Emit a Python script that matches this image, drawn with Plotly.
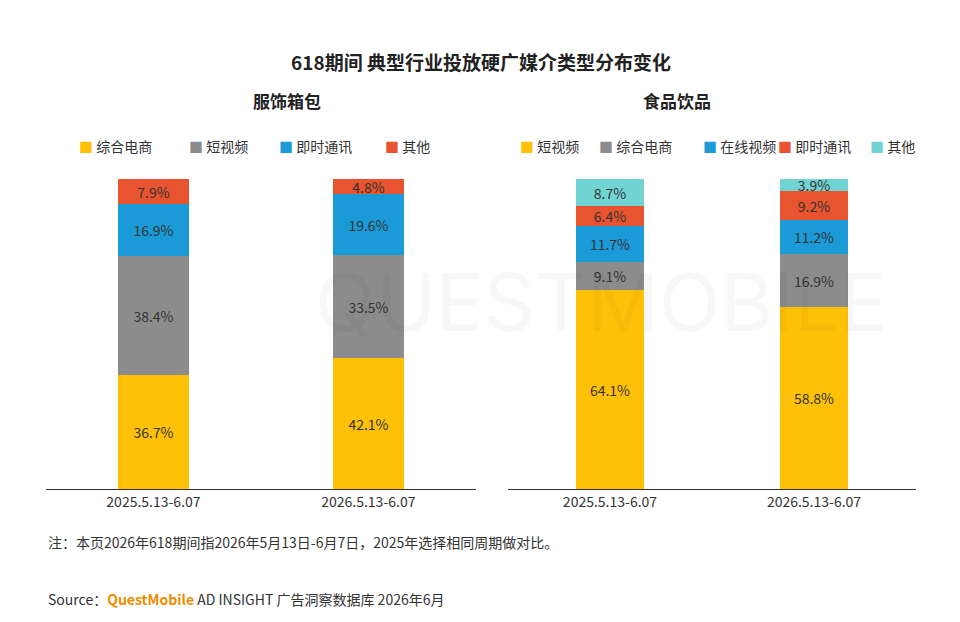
import plotly.graph_objects as go

cats = ["2025.5.13-6.07", "2026.5.13-6.07"]
left_series = ["综合电商", "短视频", "即时通讯", "其他"]
left_vals = [[36.7, 42.1], [38.4, 33.5], [16.9, 19.6], [7.9, 4.8]]
right_series = ["短视频", "综合电商", "在线视频", "即时通讯", "其他"]
right_vals = [[64.1, 58.8], [9.1, 16.9], [11.7, 11.2], [6.4, 9.2], [8.7, 3.9]]

left_cols = ["#FFC107", "#8C8C8C", "#1A9AD6", "#E8542F"]
right_cols = ["#FFC107", "#8C8C8C", "#1A9AD6", "#E8542F", "#72D3D3"]
left_leg_x = [76, 186, 276, 382]
right_leg_x = [517, 596, 700, 775, 867]

fig = go.Figure()
for name, vals, c in zip(left_series, left_vals, left_cols):
    fig.add_bar(x=cats, y=vals, name=name, marker=dict(color=c, line=dict(width=0)),
                text=[f"{v}%" for v in vals], textposition="inside", insidetextanchor="middle",
                textfont=dict(size=14, color="#333"), width=0.33, xaxis="x", yaxis="y",
                showlegend=False, hoverinfo="skip")
for name, vals, c in zip(right_series, right_vals, right_cols):
    fig.add_bar(x=cats, y=vals, name=name, marker=dict(color=c, line=dict(width=0)),
                text=[f"{v}%" for v in vals], textposition="inside", insidetextanchor="middle",
                textfont=dict(size=14, color="#333"), width=0.33, xaxis="x2", yaxis="y2",
                showlegend=False, hoverinfo="skip")

ax = dict(showgrid=False, showline=True, linecolor="#333", linewidth=1, ticks="",
          tickfont=dict(size=14, color="#333"), fixedrange=True)
ay = dict(visible=False, range=[0, 100], fixedrange=True)

OX, OY = 7, 7
W, H = 960, 622
L, R, T, B = 45 - OX, 45 + OX, 178 - OY, 134 + OY
pw, ph = W - L - R, H - T - B
def px(x): return (x - OX - L) / pw
def py(y): return (H - B - (y - OY)) / ph

anns = [
    dict(text="QUESTMOBILE", x=px(600), y=py(300), showarrow=False,
         font=dict(size=80, color="rgba(0,0,0,0.03)", family="Inter")),
    dict(text="<b>618期间 典型行业投放硬广媒介类型分布变化</b>", x=px(480), y=py(60),
         showarrow=False, font=dict(size=19, color="#222")),
    dict(text="<b>服饰箱包</b>", x=px(250), y=py(100), showarrow=False, font=dict(size=17, color="#222")),
    dict(text="<b>食品饮品</b>", x=px(712), y=py(100), showarrow=False, font=dict(size=17, color="#222")),
    dict(text="注：本页2026年618期间指2026年5月13日-6月7日，2025年选择相同周期做对比。", x=px(45), y=py(541),
         xanchor="left", showarrow=False, font=dict(size=14, color="#333")),
    dict(text="Source：<span style='color:#F08C00'><b>QuestMobile</b></span> AD INSIGHT 广告洞察数据库 2026年6月",
         x=px(45), y=py(598), xanchor="left", showarrow=False, font=dict(size=14, color="#333")),
]
for names, cols, xs in [(left_series, left_cols, left_leg_x), (right_series, right_cols, right_leg_x)]:
    for n, c, x in zip(names, cols, xs):
        anns.append(dict(text=f"<span style='color:{c}'>■</span> {n}", x=px(x), y=py(145),
                         xanchor="left", showarrow=False, font=dict(size=14, color="#333")))

fig.update_layout(
    width=W, height=H, barmode="stack", plot_bgcolor="white", paper_bgcolor="white",
    font=dict(family="Noto Sans CJK SC", color="#333"),
    margin=dict(l=L, r=R, t=T, b=B, autoexpand=False), bargap=0,
    uniformtext=dict(minsize=14, mode="show"),
    xaxis=dict(domain=[0, 0.494], **ax), yaxis=dict(**ay),
    xaxis2=dict(domain=[0.531, 1], **ax), yaxis2=dict(anchor="x2", **ay),
    annotations=anns,
)
for a in fig.layout.annotations:
    a.xref = "paper"; a.yref = "paper"; a.yanchor = "middle"
fig.write_html("out.html")
